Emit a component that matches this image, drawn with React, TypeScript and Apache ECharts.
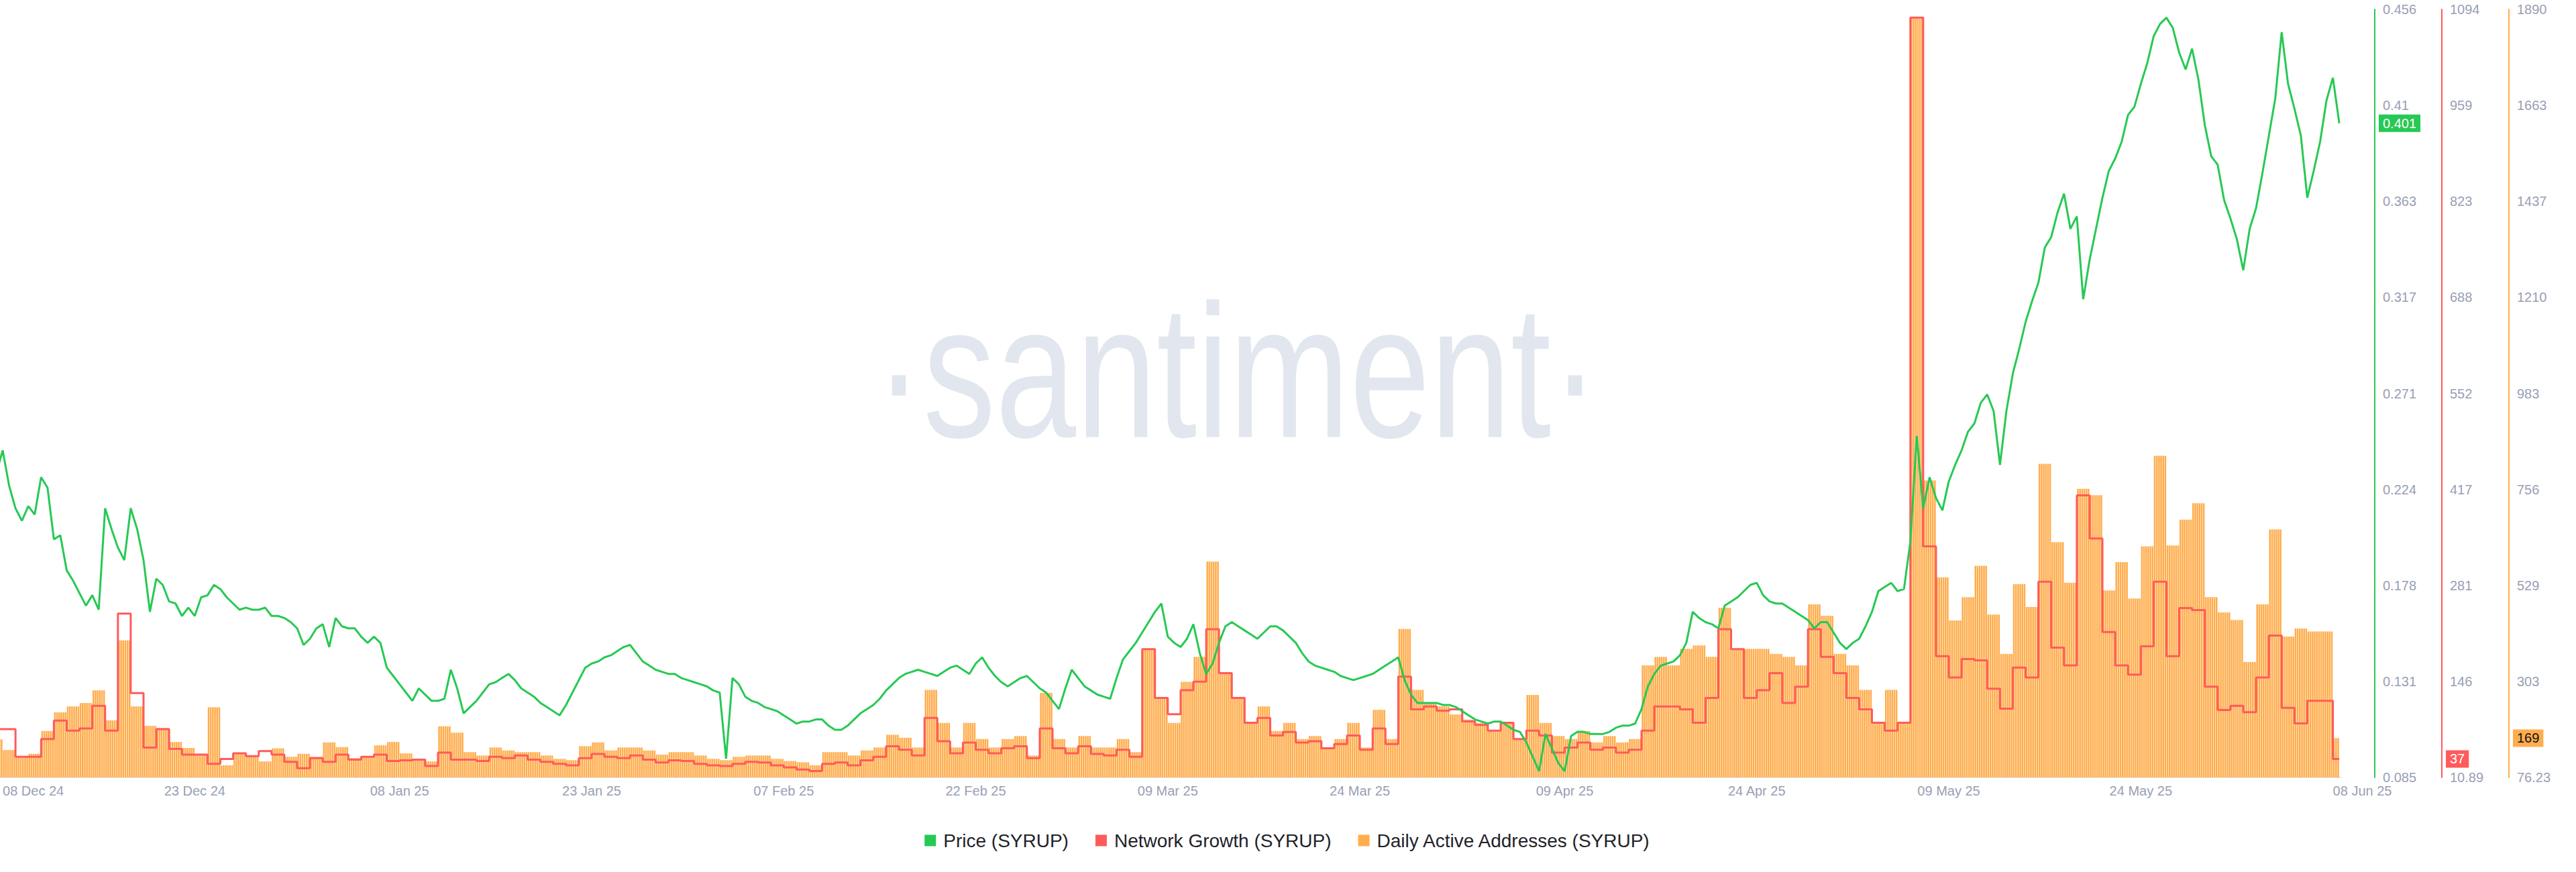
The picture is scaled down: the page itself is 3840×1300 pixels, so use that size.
import React, { useEffect, useRef } from "react";
import * as echarts from "echarts";

// ---------- time frame (unit: days since 08 Dec 2024 00:00 UTC) ----------
const ORIGIN_DATE = "2024-12-08";
const FIRST_DAY = -1; // daily arrays start on 07 Dec 2024
const LAST_DAY_ELAPSED = 0.5; // 08 Jun 2025 bucket only half elapsed
const X_MIN = -0.21;
const X_MAX = 182.65;

// ---------- Daily Active Addresses (SYRUP), 07 Dec 2024 .. 08 Jun 2025 ----------
const DAA = [
  166, 141, 125, 132, 186, 230, 244, 252, 282, 211,
  400, 244, 198, 193, 160, 146, 132, 242, 105, 133,
  127, 114, 145, 125, 132, 125, 159, 148, 122, 125,
  152, 160, 133, 119, 114, 197, 182, 136, 128, 147,
  140, 136, 136, 128, 120, 117, 150, 159, 140, 147,
  147, 140, 130, 136, 136, 128, 120, 117, 125, 128,
  128, 120, 115, 112, 105, 136, 136, 128, 140, 147,
  177, 170, 147, 283, 205, 147, 205, 167, 147, 167,
  174, 128, 276, 167, 147, 174, 147, 147, 167, 136,
  380, 264, 205, 302, 361, 586, 322, 264, 205, 244,
  186, 205, 167, 174, 147, 167, 205, 147, 236, 167,
  427, 283, 252, 244, 225, 213, 205, 186, 205, 167,
  271, 205, 174, 167, 186, 159, 174, 159, 167, 341,
  361, 341, 380, 388, 361, 477, 380, 380, 380, 368,
  361, 341, 485, 458, 368, 341, 283, 205, 283, 205,
  1873, 778, 549, 447, 502, 576, 461, 368, 533, 479,
  817, 632, 536, 758, 743, 518, 585, 499, 622, 836,
  624, 685, 724, 502, 466, 448, 349, 485, 662, 409,
  428, 421, 421, 169,
];

// ---------- Network Growth (SYRUP), same days ----------
const NETWORK_GROWTH = [
  79, 79, 40, 40, 65, 91, 77, 80, 112, 77,
  242, 130, 53, 79, 51, 43, 43, 30, 37, 45,
  41, 48, 43, 33, 24, 38, 33, 43, 36, 40,
  43, 34, 35, 36, 27, 46, 36, 36, 34, 40,
  38, 42, 36, 33, 30, 28, 38, 44, 40, 38,
  42, 36, 32, 35, 34, 30, 28, 27, 30, 33,
  32, 28, 25, 22, 20, 30, 32, 28, 35, 40,
  55, 50, 42, 95, 62, 45, 60, 50, 45, 52,
  55, 38, 80, 52, 45, 55, 44, 42, 50, 40,
  192, 123, 100, 134, 146, 220, 158, 123, 88, 95,
  70, 75, 60, 62, 52, 58, 70, 50, 80, 58,
  153, 107, 111, 105, 107, 90, 85, 77, 88, 65,
  77, 70, 46, 53, 60, 50, 53, 46, 50, 77,
  111, 111, 107, 88, 123, 220, 192, 123, 134, 158,
  116, 139, 220, 181, 158, 123, 107, 88, 77, 88,
  1083, 337, 182, 152, 178, 176, 136, 108, 166, 152,
  287, 194, 169, 409, 348, 216, 169, 156, 196, 287,
  182, 250, 247, 139, 106, 112, 103, 152, 211, 109,
  87, 119, 119, 37,
];

// ---------- Price (SYRUP), every 12h from 07 Dec 2024 12:00 ----------
const PRICE_START = -0.5;
const PRICE_STEP = 0.5;
const PRICE = [
  0.232, 0.243, 0.226, 0.215, 0.209, 0.216, 0.212, 0.230, 0.225, 0.200,
  0.202, 0.185, 0.180, 0.174, 0.168, 0.173, 0.166, 0.215, 0.205, 0.196,
  0.190, 0.215, 0.205, 0.190, 0.165, 0.181, 0.178, 0.170, 0.169, 0.163,
  0.167, 0.163, 0.172, 0.173, 0.178, 0.176, 0.172, 0.169, 0.166, 0.167,
  0.166, 0.166, 0.167, 0.163, 0.163, 0.162, 0.160, 0.157, 0.149, 0.152,
  0.157, 0.159, 0.148, 0.162, 0.158, 0.157, 0.157, 0.153, 0.150, 0.153,
  0.150, 0.138, 0.134, 0.130, 0.126, 0.122, 0.128, 0.125, 0.122, 0.122,
  0.123, 0.137, 0.128, 0.116, 0.119, 0.122, 0.126, 0.130, 0.131, 0.133,
  0.135, 0.132, 0.128, 0.126, 0.124, 0.121, 0.119, 0.117, 0.115, 0.120,
  0.126, 0.132, 0.138, 0.140, 0.141, 0.143, 0.144, 0.146, 0.148, 0.149,
  0.145, 0.141, 0.139, 0.137, 0.136, 0.135, 0.135, 0.133, 0.132, 0.131,
  0.130, 0.129, 0.127, 0.126, 0.094, 0.133, 0.130, 0.124, 0.122, 0.121,
  0.119, 0.118, 0.117, 0.115, 0.113, 0.111, 0.112, 0.112, 0.113, 0.113,
  0.110, 0.108, 0.108, 0.110, 0.113, 0.116, 0.118, 0.120, 0.123, 0.127,
  0.130, 0.133, 0.135, 0.136, 0.137, 0.136, 0.135, 0.134, 0.136, 0.138,
  0.139, 0.137, 0.135, 0.140, 0.143, 0.138, 0.134, 0.131, 0.129, 0.131,
  0.133, 0.134, 0.131, 0.128, 0.126, 0.122, 0.118, 0.128, 0.137, 0.133,
  0.129, 0.127, 0.125, 0.124, 0.123, 0.133, 0.142, 0.146, 0.150, 0.155,
  0.160, 0.165, 0.169, 0.153, 0.150, 0.148, 0.152, 0.159, 0.145, 0.135,
  0.140, 0.150, 0.158, 0.160, 0.158, 0.156, 0.154, 0.152, 0.155, 0.158,
  0.158, 0.156, 0.153, 0.150, 0.145, 0.141, 0.139, 0.138, 0.137, 0.136,
  0.134, 0.133, 0.132, 0.133, 0.134, 0.135, 0.137, 0.139, 0.141, 0.143,
  0.132, 0.125, 0.121, 0.121, 0.121, 0.121, 0.120, 0.120, 0.119, 0.117,
  0.115, 0.113, 0.112, 0.111, 0.112, 0.112, 0.110, 0.108, 0.107, 0.102,
  0.095, 0.088, 0.106, 0.099, 0.092, 0.088, 0.105, 0.107, 0.107, 0.106,
  0.106, 0.106, 0.107, 0.109, 0.110, 0.110, 0.111, 0.118, 0.129, 0.135,
  0.139, 0.140, 0.141, 0.144, 0.150, 0.165, 0.162, 0.160, 0.159, 0.157,
  0.168, 0.170, 0.172, 0.175, 0.178, 0.179, 0.173, 0.170, 0.169, 0.169,
  0.167, 0.165, 0.163, 0.161, 0.157, 0.160, 0.160, 0.155, 0.150, 0.147,
  0.150, 0.152, 0.158, 0.165, 0.175, 0.177, 0.179, 0.175, 0.176, 0.199,
  0.250, 0.215, 0.230, 0.220, 0.214, 0.228, 0.236, 0.243, 0.252, 0.256,
  0.266, 0.270, 0.262, 0.236, 0.262, 0.280, 0.292, 0.305, 0.315, 0.324,
  0.341, 0.346, 0.358, 0.367, 0.350, 0.356, 0.316, 0.335, 0.350, 0.365,
  0.378, 0.384, 0.392, 0.405, 0.409, 0.420, 0.430, 0.443, 0.449, 0.452,
  0.447, 0.435, 0.427, 0.437, 0.422, 0.400, 0.385, 0.381, 0.364, 0.355,
  0.345, 0.330, 0.350, 0.360, 0.377, 0.395, 0.413, 0.445, 0.420, 0.408,
  0.395, 0.365, 0.378, 0.392, 0.412, 0.423, 0.401,
];

// ---------- axes ----------
const X_LABEL_DATES = [
  "2024-12-08", "2024-12-23", "2025-01-08", "2025-01-23", "2025-02-07",
  "2025-02-22", "2025-03-09", "2025-03-24", "2025-04-09", "2025-04-24",
  "2025-05-09", "2025-05-24", "2025-06-08",
];
const PRICE_TICKS = ["0.085", "0.131", "0.178", "0.224", "0.271", "0.317", "0.363", "0.41", "0.456"];
const PRICE_RANGE = [0.085, 0.456];
const NG_TICKS = ["10.89", "146", "281", "417", "552", "688", "823", "959", "1094"];
const NG_RANGE = [10.89, 1094.65];
const DAA_TICKS = ["76.23", "303", "529", "756", "983", "1210", "1437", "1663", "1890"];
const DAA_RANGE = [76.23, 1890.6];

const SERIES_NAMES = ["Price (SYRUP)", "Network Growth (SYRUP)", "Daily Active Addresses (SYRUP)"];
const COLORS = { price: "#26c953", ng: "#ff5b5b", daa: "#ffad4d" };
const FONT = "'Liberation Sans', Arial, sans-serif";
const LABEL_GRAY = "#98a0b3";
const MONTHS = ["Jan", "Feb", "Mar", "Apr", "May", "Jun", "Jul", "Aug", "Sep", "Oct", "Nov", "Dec"];

const DAY_MS = 86400000;
const dayOf = (iso: string) => (Date.parse(iso + "T00:00:00Z") - Date.parse(ORIGIN_DATE + "T00:00:00Z")) / DAY_MS;
const fmtDate = (iso: string) => {
  const [y, m, d] = iso.split("-");
  return `${d} ${MONTHS[Number(m) - 1]} ${y.slice(2)}`;
};

function buildYAxis(
  ticks: string[],
  range: number[],
  offset: number,
  color: string,
  lastValue: number,
  badgeBg: string,
  badgeFg: string
) {
  const [min, max] = range;
  const step = (max - min) / (ticks.length - 1);
  const tickValues = ticks.map((_, k) => min + k * step);
  const values = [...tickValues, lastValue].sort((a, b) => a - b);
  return {
    type: "value",
    position: "right",
    offset,
    min,
    max,
    axisLine: { show: true, onZero: false, lineStyle: { color, width: 2 } },
    axisTick: { show: false },
    splitLine: { show: false },
    axisLabel: {
      show: true,
      customValues: values,
      margin: 6,
      fontSize: 20,
      fontFamily: FONT,
      color: LABEL_GRAY,
      showMinLabel: true,
      showMaxLabel: true,
      formatter: (v: number) => {
        if (Math.abs(v - lastValue) < step * 1e-6) return `{b|${lastValue}}`;
        let best = 0;
        tickValues.forEach((t, k) => {
          if (Math.abs(t - v) < Math.abs(tickValues[best] - v)) best = k;
        });
        return `{n|${ticks[best]}}`;
      },
      rich: {
        n: { fontSize: 20, fontFamily: FONT, color: LABEL_GRAY, padding: [3, 6, 3, 6] },
        b: { fontSize: 20, fontFamily: FONT, color: badgeFg, backgroundColor: badgeBg, padding: [3, 6, 3, 6] },
      },
    },
  };
}

export default function App() {
  const ref = useRef<HTMLDivElement>(null);

  useEffect(() => {
    document.body.style.margin = "0";
    if (!ref.current) return;
    const chart = echarts.init(ref.current, undefined, { renderer: "svg" });

    const subBars = 6;
    const daaBars: number[][] = [];
    DAA.forEach((v, i) => {
      const day = FIRST_DAY + i;
      const parts = i === DAA.length - 1 ? Math.round(subBars * LAST_DAY_ELAPSED) : subBars;
      for (let k = 0; k < parts; k++) daaBars.push([day + (k + 0.5) / subBars, v]);
    });

    const ngLine: number[][] = NETWORK_GROWTH.map((v, i) => [FIRST_DAY + i, v]);
    ngLine.push([FIRST_DAY + NETWORK_GROWTH.length - 1 + LAST_DAY_ELAPSED, NETWORK_GROWTH[NETWORK_GROWTH.length - 1]]);

    const priceLine = PRICE.map((v, i) => [PRICE_START + i * PRICE_STEP, v]);

    const xLabelDays = X_LABEL_DATES.map(dayOf);
    const xLabelText = X_LABEL_DATES.map(fmtDate);

    chart.setOption({
      animation: false,
      backgroundColor: "#ffffff",
      textStyle: { fontFamily: FONT },
      grid: { left: 0, right: 350, top: 14, bottom: 141, containLabel: false, outerBoundsMode: "none" },
      graphic: [
        {
          type: "text",
          x: 1844,
          y: 553,
          scaleX: 0.763,
          z: -10,
          silent: true,
          style: {
            text: "·santiment·",
            fontSize: 283,
            fontFamily: FONT,
            fill: "#e2e6ee",
            align: "center",
            verticalAlign: "middle",
          },
        },
      ],
      legend: {
        data: SERIES_NAMES,
        top: 1234,
        left: "center",
        icon: "rect",
        itemWidth: 17,
        itemHeight: 17,
        itemGap: 40,
        textStyle: { fontSize: 28, color: "#1f2329", fontFamily: FONT, padding: [0, 0, 0, 6] },
      },
      xAxis: {
        type: "value",
        min: X_MIN,
        max: X_MAX,
        axisLine: { show: true, onZero: false, lineStyle: { color: "#e6e9ef", width: 2 } },
        axisTick: { show: false },
        splitLine: { show: false },
        axisLabel: {
          customValues: xLabelDays,
          margin: 10,
          fontSize: 20,
          fontFamily: FONT,
          color: LABEL_GRAY,
          alignMinLabel: "left",
          alignMaxLabel: "left",
          formatter: (v: number) => {
            let best = 0;
            xLabelDays.forEach((t, k) => {
              if (Math.abs(t - v) < Math.abs(xLabelDays[best] - v)) best = k;
            });
            return xLabelText[best];
          },
        },
      },
      yAxis: [
        buildYAxis(PRICE_TICKS, PRICE_RANGE, 50, COLORS.price, PRICE[PRICE.length - 1], COLORS.price, "#ffffff"),
        buildYAxis(NG_TICKS, NG_RANGE, 150, COLORS.ng, NETWORK_GROWTH[NETWORK_GROWTH.length - 1], COLORS.ng, "#ffffff"),
        buildYAxis(DAA_TICKS, DAA_RANGE, 250, COLORS.daa, DAA[DAA.length - 1], COLORS.daa, "#111111"),
      ],
      series: [
        {
          name: SERIES_NAMES[2],
          type: "bar",
          yAxisIndex: 2,
          data: daaBars,
          barWidth: "80%",
          color: COLORS.daa,
          itemStyle: { color: COLORS.daa, opacity: 1 },
          clip: true,
        },
        {
          name: SERIES_NAMES[1],
          type: "line",
          yAxisIndex: 1,
          data: ngLine,
          step: "end",
          symbol: "none",
          color: COLORS.ng,
          lineStyle: { color: COLORS.ng, width: 3 },
          clip: true,
        },
        {
          name: SERIES_NAMES[0],
          type: "line",
          yAxisIndex: 0,
          data: priceLine,
          symbol: "none",
          color: COLORS.price,
          lineStyle: { color: COLORS.price, width: 3 },
          clip: true,
        },
      ],
    });

    return () => chart.dispose();
  }, []);

  return (
    <div
      ref={ref}
      style={{ position: "absolute", left: 0, top: 0, width: 3840, height: 1300, background: "#fff" }}
    />
  );
}
